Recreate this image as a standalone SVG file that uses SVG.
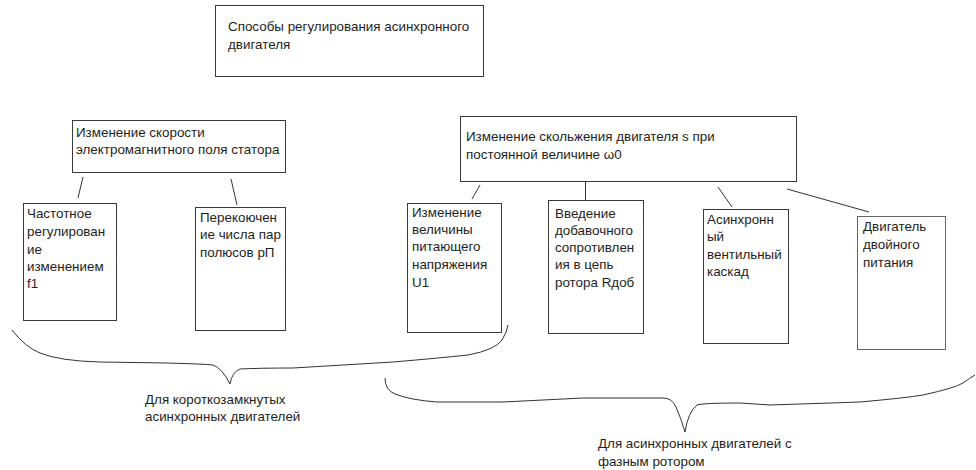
<svg xmlns="http://www.w3.org/2000/svg" width="976" height="470" viewBox="0 0 976 470">
<style>
.box{fill:#fff;stroke:#3a3a3a;stroke-width:1}
.box2{fill:#fff;stroke:#666;stroke-width:1}
text{font-family:"Liberation Sans",Arial,sans-serif;font-size:13.4px;fill:#1e1e1e}
.ln{stroke:#333;stroke-width:1;fill:none}
</style>
<rect width="976" height="470" fill="#fff"/>
<g id="root">
<rect class="box" x="215.5" y="5.5" width="268" height="71"/>
<text x="228" y="31">Способы регулирования асинхронного</text>
<text x="228" y="49">двигателя</text>
</g>
<g id="stator">
<rect class="box" x="72.5" y="120.5" width="213" height="52"/>
<text x="76" y="137">Изменение скорости</text>
<text x="76" y="154">электромагнитного поля статора</text>
</g>
<g id="freq">
<rect class="box" x="23.5" y="203.5" width="93" height="117"/>
<text x="27" y="218">Частотное</text>
<text x="27" y="236">регулирован</text>
<text x="27" y="254">ие</text>
<text x="27" y="271">изменением</text>
<text x="27" y="288">f1</text>
</g>
<g id="poles">
<rect class="box" x="195.5" y="207.5" width="90" height="123"/>
<text x="200" y="222">Перекоючен</text>
<text x="200" y="239">ие числа пар</text>
<text x="200" y="257">полюсов рП</text>
</g>
<g id="slip">
<rect class="box" x="460.5" y="116.5" width="336" height="65"/>
<text x="466" y="141">Изменение скольжения двигателя s при</text>
<text x="466" y="159">постоянной величине ω0</text>
</g>
<g id="voltage">
<rect class="box" x="407.5" y="203.5" width="94" height="129"/>
<text x="412" y="217">Изменение</text>
<text x="412" y="234">величины</text>
<text x="412" y="251">питающего</text>
<text x="412" y="269">напряжения</text>
<text x="412" y="287">U1</text>
</g>
<g id="resistance">
<rect class="box" x="548.5" y="200.5" width="95" height="133"/>
<text x="555" y="218">Введение</text>
<text x="555" y="235">добавочного</text>
<text x="555" y="252">сопротивлен</text>
<text x="555" y="269">ия в цепь</text>
<text x="555" y="287">ротора Rдоб</text>
</g>
<g id="cascade">
<rect class="box" x="703.5" y="209.5" width="85" height="134"/>
<text x="707" y="224">Асинхронн</text>
<text x="707" y="241">ый</text>
<text x="707" y="259">вентильный</text>
<text x="707" y="276">каскад</text>
</g>
<g id="dual">
<rect class="box2" x="857.5" y="216.5" width="88" height="133"/>
<text x="863" y="231">Двигатель</text>
<text x="863" y="249">двойного</text>
<text x="863" y="267">питания</text>
</g>
<g id="connectors">
<line class="ln" x1="83" y1="177" x2="78" y2="198"/>
<line class="ln" x1="231" y1="179" x2="237" y2="205"/>
<line class="ln" x1="480" y1="185" x2="472" y2="199"/>
<line class="ln" x1="585.5" y1="181" x2="585.5" y2="200"/>
<line class="ln" x1="718" y1="187" x2="732" y2="207"/>
<line class="ln" x1="787" y1="189" x2="869" y2="212"/>
<path class="ln" d="M12,330 Q25,347 40,353 Q60,361 100,362 L167,363 Q205,364 213,365 Q222,368 230,384 Q232,372 240,369 Q260,368 293,368 L393,362 Q440,358 468,355 Q495,350 502,340 Q507,332 508,325"/>
<path class="ln" d="M385,378 Q385,390 395,394 Q410,400 437,402 L503,402 L583,398 L663,398 Q672,398 676,407 Q681,418 685,432 Q688,412 697,405 Q703,403 740,403 L770,405 L860,402 Q905,398 923,395 Q955,388 963,383 Q970,378 975,375"/>
</g>
<g id="labels">
<text x="145" y="404">Для короткозамкнутых</text>
<text x="145" y="421">асинхронных двигателей</text>
<text x="598" y="448">Для асинхронных двигателей с</text>
<text x="598" y="466">фазным ротором</text>
</g>
</svg>
